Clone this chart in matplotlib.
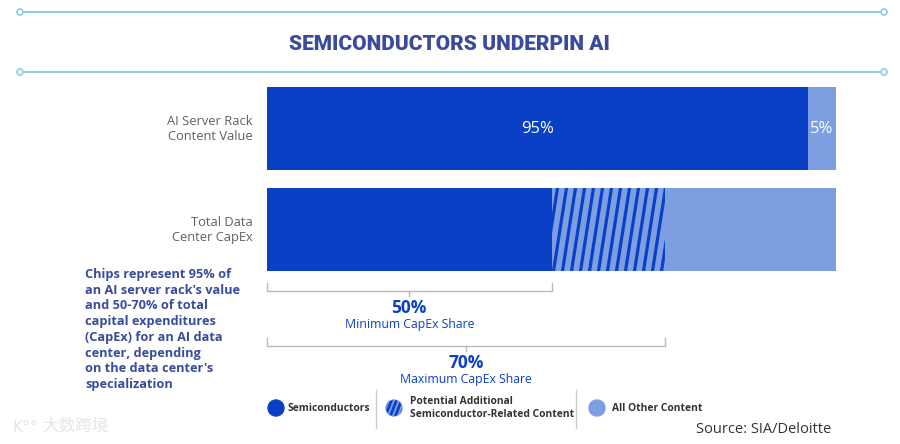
import numpy as np
import matplotlib
matplotlib.use("Agg")
import matplotlib.pyplot as plt
from matplotlib.patches import Circle
from matplotlib.lines import Line2D

# data
categories = ["AI Server Rack\nContent Value", "Total Data\nCenter CapEx"]
semis = [95, 50]          # semiconductors share
potential = [0, 20]       # potential additional semiconductor-related content
other = [5, 30]           # all other content
bar_labels = [["95%", "5%"], ["", ""]]
bracket_values = [50, 70]
bracket_titles = ["Minimum CapEx Share", "Maximum CapEx Share"]
legend_labels = ["Semiconductors", "Potential Additional\nSemiconductor-Related Content", "All Other Content"]

DARK = "#0a40c6"
LIGHT = "#7d9fe2"
NAVY = "#3a4a9e"
LINE = "#8dcbe6"

W, H = 900, 444
fig = plt.figure(figsize=(9, 4.44), dpi=100)

# full-figure overlay in pixel coords (y from top)
bg = fig.add_axes([0, 0, 1, 1])
bg.set_xlim(0, W)
bg.set_ylim(H, 0)
bg.axis("off")

# decorative rules
for y in (12, 72):
    bg.plot([20, 884], [y, y], color=LINE, lw=1.4, zorder=1)
    for x in (20, 884):
        bg.add_patch(Circle((x, y), 3, facecolor="white", edgecolor=LINE, lw=1.2, zorder=2))

bg.text(449, 44, "SEMICONDUCTORS UNDERPIN AI", ha="center", va="center",
        fontsize=15, fontweight="black", color=NAVY, family="Roboto")

note = ("Chips represent 95% of\nan AI server rack's value\nand 50-70% of total\n"
        "capital expenditures\n(CapEx) for an AI data\ncenter, depending\n"
        "on the data center's\nspecialization")
bg.text(85, 268, note, ha="left", va="top", fontsize=9.2, fontweight="bold",
        color=NAVY, family="Open Sans", linespacing=1.27)

bg.text(831, 429, "Source: SIA/Deloitte", ha="right", va="center",
        fontsize=10.5, color="#333333", family="Open Sans")

bg.text(12, 427, "K°°", ha="left", va="center", fontsize=11, color="#e6e6e6",
        family="DejaVu Sans")
bg.text(42, 427, "大数跨境", ha="left", va="center", fontsize=12, color="#e6e6e6",
        family=["Noto Sans CJK SC", "DejaVu Sans"])

# bar axes: x in percent, y in figure pixels from top
ax = fig.add_axes([267 / W, 0, 569 / W, 1])
ax.set_xlim(0, 100)
ax.set_ylim(H, 0)
ax.axis("off")
px = 100 / 569  # percent per pixel

ycent = [128.5, 229.5]
bh = 83
ax.barh(ycent, semis, height=bh, color=DARK, zorder=2)
left2 = np.array(semis)
hbars = ax.barh(ycent, potential, left=left2, height=bh, color=LIGHT, zorder=2)
left3 = left2 + np.array(potential)
ax.barh(ycent, other, left=left3, height=bh, color=LIGHT, zorder=2)

# steep stripes on the potential segment
for yc, s, p, rect in zip(ycent, semis, potential, hbars):
    if p <= 0:
        continue
    top, bot = yc - bh / 2, yc + bh / 2
    for x0 in np.arange(s - 16 * px, s + p + 2 * px, 9 * px):
        ln = Line2D([x0, x0 + 13 * px], [bot, top], color=DARK, lw=2.3, zorder=3)
        ax.add_line(ln)
        ln.set_clip_path(rect)

for yc, s, o, labs in zip(ycent, semis, other, bar_labels):
    if labs[0]:
        ax.text(s / 2, yc, labs[0], ha="center", va="center", color="white",
                fontsize=12, family="Open Sans")
    if labs[1]:
        ax.text(100 - o / 2, yc, labs[1], ha="center", va="center", color="white",
                fontsize=12, family="Open Sans")

for yc, cat in zip(ycent, categories):
    ax.text(-2.5, yc, cat, ha="right", va="center", fontsize=9.3, color="#606060",
            family="Open Sans", linespacing=1.2)

# brackets
btops = [283, 338]
for v, t, title in zip(bracket_values, btops, bracket_titles):
    b = t + 8
    ax.plot([0, 0, v, v], [t, b, b, t], color="#bbbbbb", lw=1, zorder=1, clip_on=False)
    ax.plot([v / 2, v / 2], [b, b + 5], color="#bbbbbb", lw=1, clip_on=False)
    ax.text(v / 2, b + 17, f"{v}%", ha="center", va="center", fontsize=12.5,
            fontweight="bold", color=DARK, family="Open Sans")
    ax.text(v / 2, b + 33, title, ha="center", va="center", fontsize=8.8,
            color=DARK, family="Open Sans")

# legend
ly = 408
bg.add_patch(Circle((276, ly), 8, color=DARK))
bg.text(288, ly, legend_labels[0], ha="left", va="center", fontsize=7.4,
        fontweight="bold", color="#333333", family="Open Sans")
bg.plot([376, 376], [390, 428], color="#cccccc", lw=1)
hc = Circle((394, ly), 8, color=LIGHT)
bg.add_patch(hc)
for dx in np.arange(-14, 12, 5):
    ln = Line2D([394 + dx, 394 + dx + 7], [ly + 9, ly - 9], color=DARK, lw=2.0)
    bg.add_line(ln)
    ln.set_clip_path(hc)
bg.text(410, ly, legend_labels[1], ha="left", va="center", fontsize=7.4,
        fontweight="bold", color="#333333", family="Open Sans", linespacing=1.15)
bg.plot([576, 576], [390, 428], color="#cccccc", lw=1)
bg.add_patch(Circle((597, ly), 8, color=LIGHT))
bg.text(612, ly, legend_labels[2], ha="left", va="center", fontsize=7.4,
        fontweight="bold", color="#333333", family="Open Sans")

fig.savefig("out.png", dpi=100)
